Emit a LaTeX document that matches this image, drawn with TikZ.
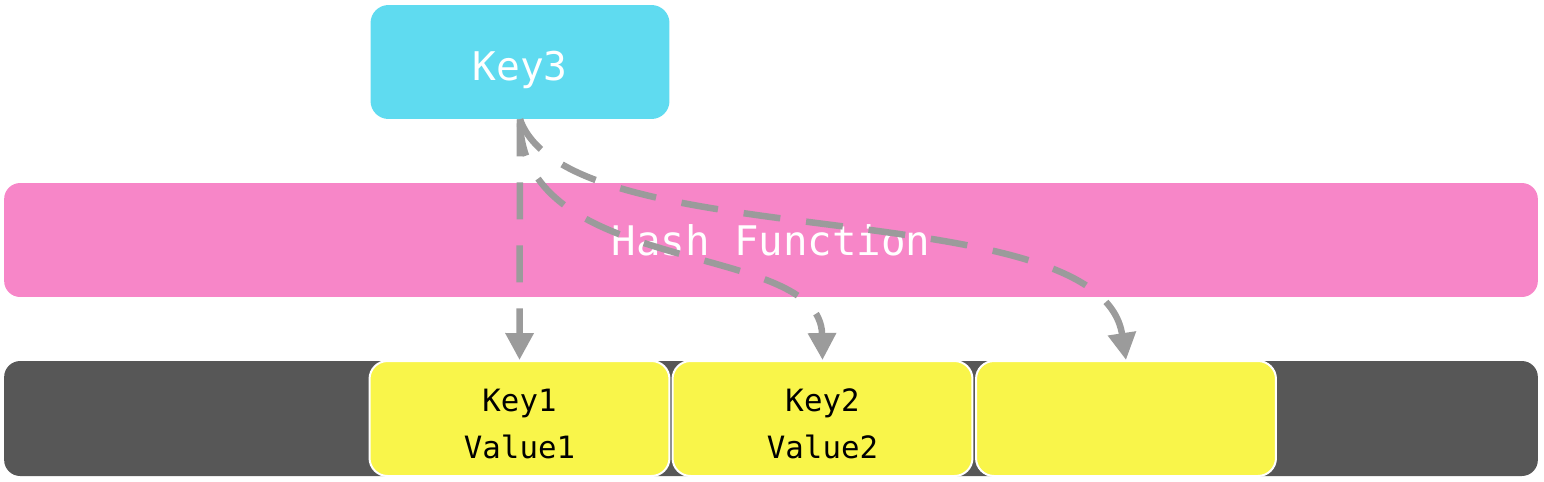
\documentclass[tikz,border=0pt]{standalone}
\usepackage{xcolor}
\usepackage{fontspec}
\setmonofont{DejaVu Sans Mono}
\usepackage{tikz}
\usetikzlibrary{positioning,arrows.meta}

\definecolor{keycyan}{HTML}{5FDBF0}
\definecolor{hashpink}{HTML}{F786C8}
\definecolor{bardark}{HTML}{575757}
\definecolor{slotyellow}{HTML}{F9F54A}
\definecolor{arrowgray}{HTML}{9B9B9B}

\begin{document}
\begin{tikzpicture}[x=0.02cm, y=-0.02cm,
  keybox/.style={fill=keycyan, rounded corners=0.36cm, minimum width=5.98cm,
    minimum height=2.28cm, text=white, text height=0.72cm, text depth=0pt,
    font=\ttfamily\fontsize{22.5}{27}\selectfont},
  hashbar/.style={fill=hashpink, rounded corners=0.32cm, minimum width=30.68cm,
    minimum height=2.28cm, text=white, font=\ttfamily\fontsize{23.2}{28}\selectfont},
  tablebar/.style={fill=bardark, rounded corners=0.32cm, minimum width=30.68cm,
    minimum height=2.3cm},
  slotbox/.style={fill=slotyellow, draw=white, line width=0.04cm, rounded corners=0.36cm,
    minimum width=6cm, minimum height=2.3cm, align=center, inner sep=0pt,
    font=\ttfamily\fontsize{17.5}{26.6}\selectfont},
  lookup/.style={draw=arrowgray, line width=0.13cm, dash pattern=on 0.74cm off 0.52cm,
    -{Triangle[length=0.54cm, width=0.54cm]}}]

  \useasboundingbox (0,0) rectangle (1544,481);

  \node[keybox] (key3) at (520,62) {Key3};
  \node[hashbar] (hash) at (771,240) {Hash Function};
  \node[tablebar] (table) at (771,418.5) {};
  \node[slotbox] (slot1) at (519.5,418.5) {\rule{0pt}{0.66cm}Key1\\Value1};
  \node[slotbox] (slot2) at (822.5,418.5) {\rule{0pt}{0.66cm}Key2\\Value2};
  \node[slotbox] (slot3) at (1126,418.5) {};

  % hashing Key3 to each slot
  \draw[lookup] (key3.south) -- (slot1.north);
  \draw[lookup] (key3.south) .. controls +(0,160) and +(-2,-121) .. (slot2.north);
  \draw[lookup] (key3.south) .. controls +(50,140) and +(-26,-171) .. (slot3.north);
\end{tikzpicture}
\end{document}
